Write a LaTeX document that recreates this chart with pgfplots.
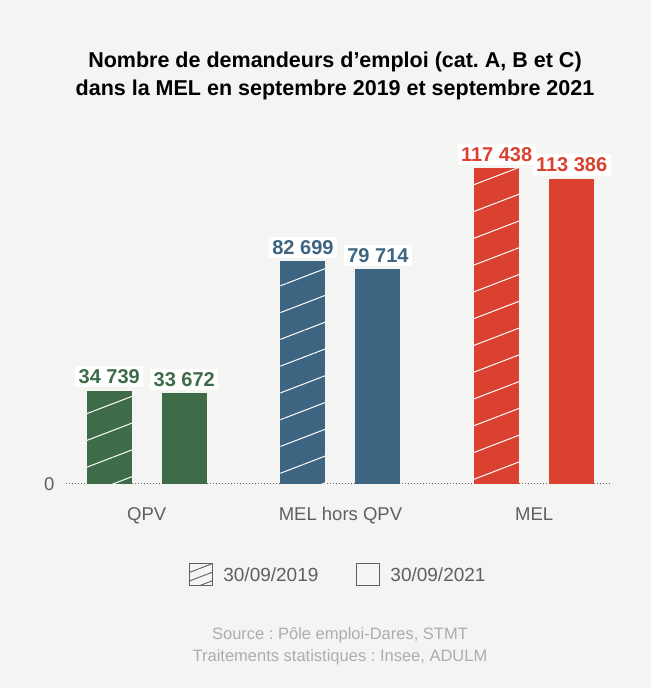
\documentclass[border=0pt]{standalone}
\usepackage{pgfplots}
\pgfplotsset{compat=1.18}
\usetikzlibrary{patterns.meta}
\usepackage{fontspec}
\setmainfont{Liberation Sans}
\frenchspacing
\definecolor{bgc}{HTML}{F4F5F2}
\definecolor{cg}{HTML}{3E6B48}
\definecolor{cb}{HTML}{3D6480}
\definecolor{cr}{HTML}{DB4130}
\definecolor{tk}{HTML}{5F5F5F}
\definecolor{src}{HTML}{ADADAD}
\tikzset{hatch/.style={postaction={pattern={Lines[angle=21,distance=25pt,line width=1pt]},pattern color=white}}}
\begin{document}
\begin{tikzpicture}
\fill[bgc] (0pt,0pt) rectangle (651pt,688pt);
\node[font=\fontsize{21.5}{28}\selectfont\bfseries, align=center, text=black] at (335pt,612pt) {Nombre de demandeurs d’emploi (cat.~A, B et C)\\dans la MEL en septembre 2019 et septembre 2021};
\begin{axis}[
  at={(66pt,204pt)}, anchor=south west,
  scale only axis, width=546pt, height=336.4pt,
  xmin=-0.417, xmax=2.402, ymin=0, ymax=125000,
  scaled y ticks=false,
  axis lines*=left,
  y axis line style={draw=none},
  x axis line style={dash pattern=on 1pt off 2pt, draw=black!60, line width=1pt},
  major tick length=0pt,
  xtick={0,1,2}, xticklabels={QPV, MEL hors QPV, MEL},
  ytick={0}, yticklabels={0},
  xticklabel style={font=\fontsize{18.5}{20}\selectfont, text=tk, yshift=-20pt},
  yticklabel style={font=\fontsize{18.5}{20}\selectfont, text=tk, xshift=-8pt},
  ybar, bar width=45pt,
  point meta=explicit symbolic,
  nodes near coords,
  nodes near coords style={font=\fontsize{20}{22}\selectfont\bfseries, fill=white, inner sep=3.5pt, anchor=south, yshift=3pt},
  legend style={at={(0.499,-0.2705)}, anchor=center, legend columns=2, draw=none, fill=none,
     font=\fontsize{19}{21}\selectfont, text=tk,
     /tikz/every odd column/.append style={column sep=8pt},
     /tikz/every even column/.append style={column sep=36pt}},
  legend cell align=left,
]
\addplot[draw=none, fill=cg, hatch, bar shift=-37.5pt, forget plot, nodes near coords style={text=cg}] coordinates {(0,34739) [34 739]};
\addplot[draw=none, fill=cg, bar shift=37.5pt, forget plot, nodes near coords style={text=cg}] coordinates {(0,33672) [33 672]};
\addplot[draw=none, fill=cb, hatch, bar shift=-37.5pt, forget plot, nodes near coords style={text=cb}] coordinates {(1,82699) [82 699]};
\addplot[draw=none, fill=cb, bar shift=37.5pt, forget plot, nodes near coords style={text=cb}] coordinates {(1,79714) [79 714]};
\addplot[draw=none, fill=cr, hatch, bar shift=-37.5pt, forget plot, nodes near coords style={text=cr}] coordinates {(2,117438) [117 438]};
\addplot[draw=none, fill=cr, bar shift=37.5pt, forget plot, nodes near coords style={text=cr}] coordinates {(2,113386) [113 386]};
\addlegendimage{legend image code/.code={\draw[draw=tk, line width=1pt, postaction={pattern={Lines[angle=21,distance=8pt,line width=0.9pt]},pattern color=tk}] (0pt,-11pt) rectangle (23pt,11pt);}}
\addlegendentry{30/09/2019}
\addlegendimage{legend image code/.code={\draw[draw=tk, line width=1pt] (0pt,-11pt) rectangle (23pt,11pt);}}
\addlegendentry{30/09/2021}
\end{axis}
\node[font=\fontsize{16.5}{22}\selectfont, text=src, align=center] at (340pt,42pt) {Source : Pôle emploi-Dares, STMT\\Traitements statistiques : Insee, ADULM};
\end{tikzpicture}
\end{document}
